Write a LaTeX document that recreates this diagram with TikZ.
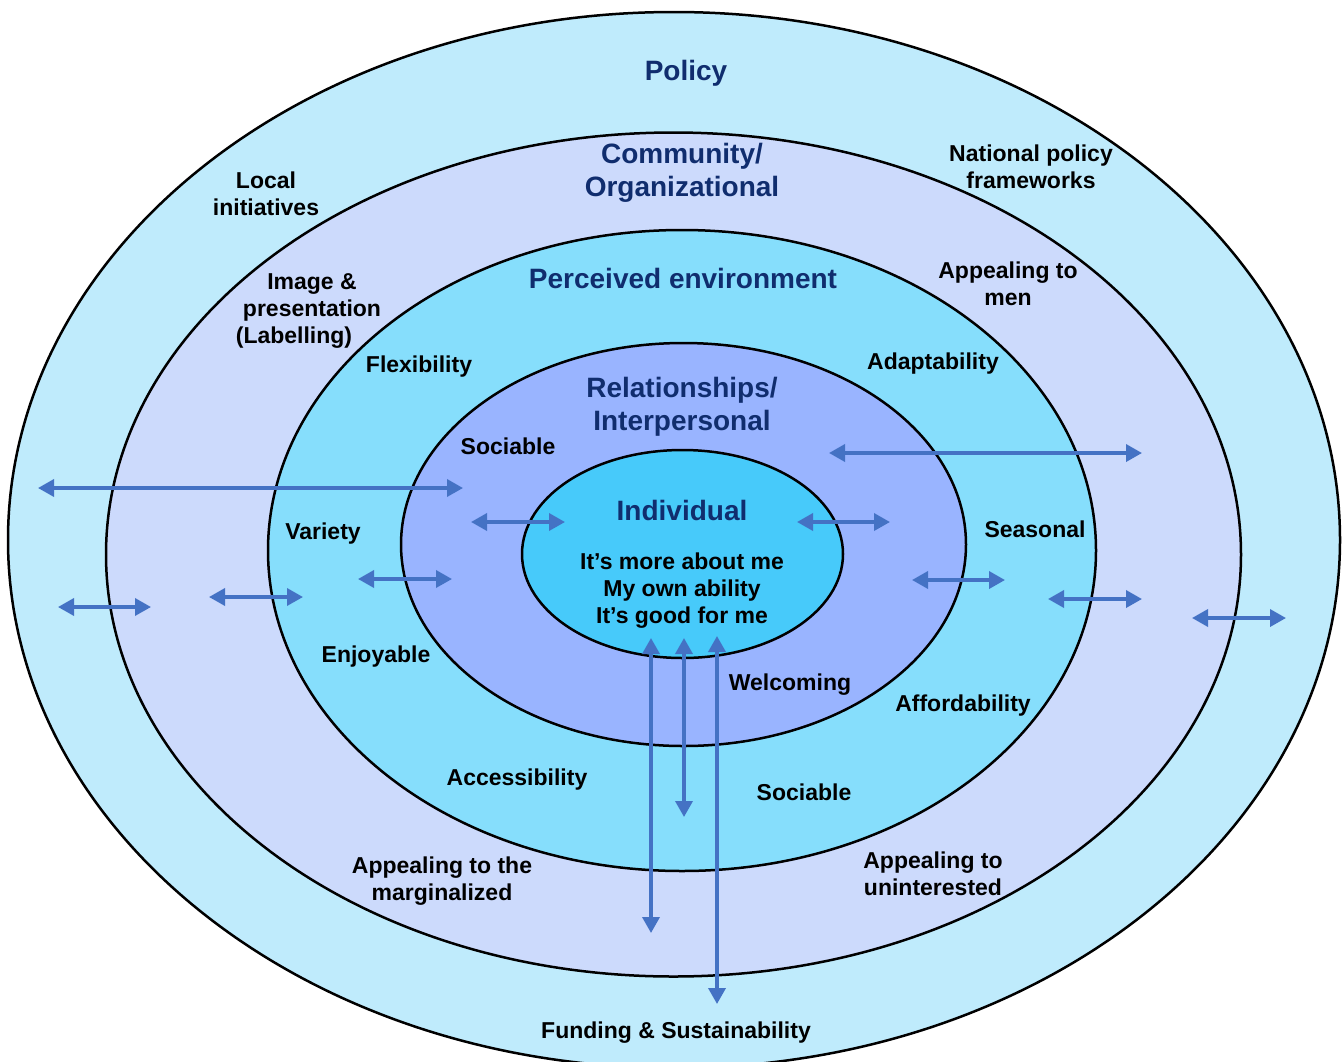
\documentclass[tikz,border=0pt]{standalone}
\usepackage{fontspec}
\setmainfont{Liberation Sans}
\usetikzlibrary{arrows.meta}
\definecolor{policyring}{HTML}{BFEBFC}
\definecolor{communityring}{HTML}{CCDAFC}
\definecolor{perceivedring}{HTML}{86DEFC}
\definecolor{relationring}{HTML}{99B4FF}
\definecolor{individualring}{HTML}{47CAFA}
\definecolor{titlenavy}{HTML}{102D6E}
\definecolor{linkblue}{HTML}{4472C4}

\begin{document}
\begin{tikzpicture}[x=1pt,y=-1pt]
  \tikzstyle{every node}+=[inner sep=0pt, align=center, font=\bfseries\fontsize{23}{27}\selectfont]
  \tikzstyle{title}=[text=titlenavy, font=\bfseries\fontsize{28}{33}\selectfont]
  \tikzstyle{ring}=[draw=black, line width=2.5pt]
  \tikzstyle{link}=[draw=linkblue, line width=3.5pt, {Triangle[length=16pt,width=17pt]}-{Triangle[length=16pt,width=17pt]}]
  \useasboundingbox (0,0) rectangle (1344,1061);
  \fill [white] (0,0) rectangle (1344,1061);
  \draw [ring, fill=policyring] (674,540) ellipse (666 and 528);
  \draw [ring, fill=communityring] (673.5,554.5) ellipse (567.5 and 422);
  \draw [ring, fill=perceivedring] (682,550.5) ellipse (414 and 320.5);
  \draw [ring, fill=relationring] (683.5,544.5) ellipse (282.5 and 201.5);
  \draw [ring, fill=individualring] (682.5,554) ellipse (160.5 and 104);
  \node [title] (policy) at (686,73) {Policy};
  \node [title] (community) at (682,173) {Community/\\Organizational};
  \node [title] (perceived) at (683,278) {Perceived environment};
  \node [title] (relations) at (682,407) {Relationships/\\Interpersonal};
  \node [title] (individual) at (682,510) {Individual};
  \node (aboutme) at (682,591) {It’s more about me\\My own ability\\It’s good for me};
  \node (local) at (266,194) {Local\\initiatives};
  \node (national) at (1031,167) {National policy\\frameworks};
  \node (image) at (312,311) {Image \&\\presentation\\(Labelling)\hspace*{36pt}};
  \node (men) at (1008,284) {Appealing to\\men};
  \node (flexibility) at (419,367) {Flexibility};
  \node (adaptability) at (933,364) {Adaptability};
  \node (sociableA) at (508,446) {Sociable};
  \node (variety) at (323,534) {Variety};
  \node (seasonal) at (1035,529) {Seasonal};
  \node (enjoyable) at (376,657) {Enjoyable};
  \node (welcoming) at (790,685) {Welcoming};
  \node (affordability) at (963,706) {Affordability};
  \node (accessibility) at (517,780) {Accessibility};
  \node (sociableB) at (804,792) {Sociable};
  \node (marginalized) at (442,881) {Appealing to the\\marginalized};
  \node (uninterested) at (933,874) {Appealing to\\uninterested};
  \node (funding) at (676,1033) {Funding \& Sustainability};
  \draw [link] (38,488) -- (463,488);
  \draw [link] (829,453) -- (1142,453);
  \draw [link] (471,522) -- (565,522);
  \draw [link] (797,522) -- (890,522);
  \draw [link] (358,579) -- (452,579);
  \draw [link] (912,580) -- (1005,580);
  \draw [link] (209,597) -- (303,597);
  \draw [link] (1048,599) -- (1142,599);
  \draw [link] (58,607) -- (151,607);
  \draw [link] (1192,618) -- (1286,618);
  \draw [link] (651,638) -- (651,933);
  \draw [link] (684,638) -- (684,817);
  \draw [link] (717,636) -- (717,1004);
\end{tikzpicture}
\end{document}
